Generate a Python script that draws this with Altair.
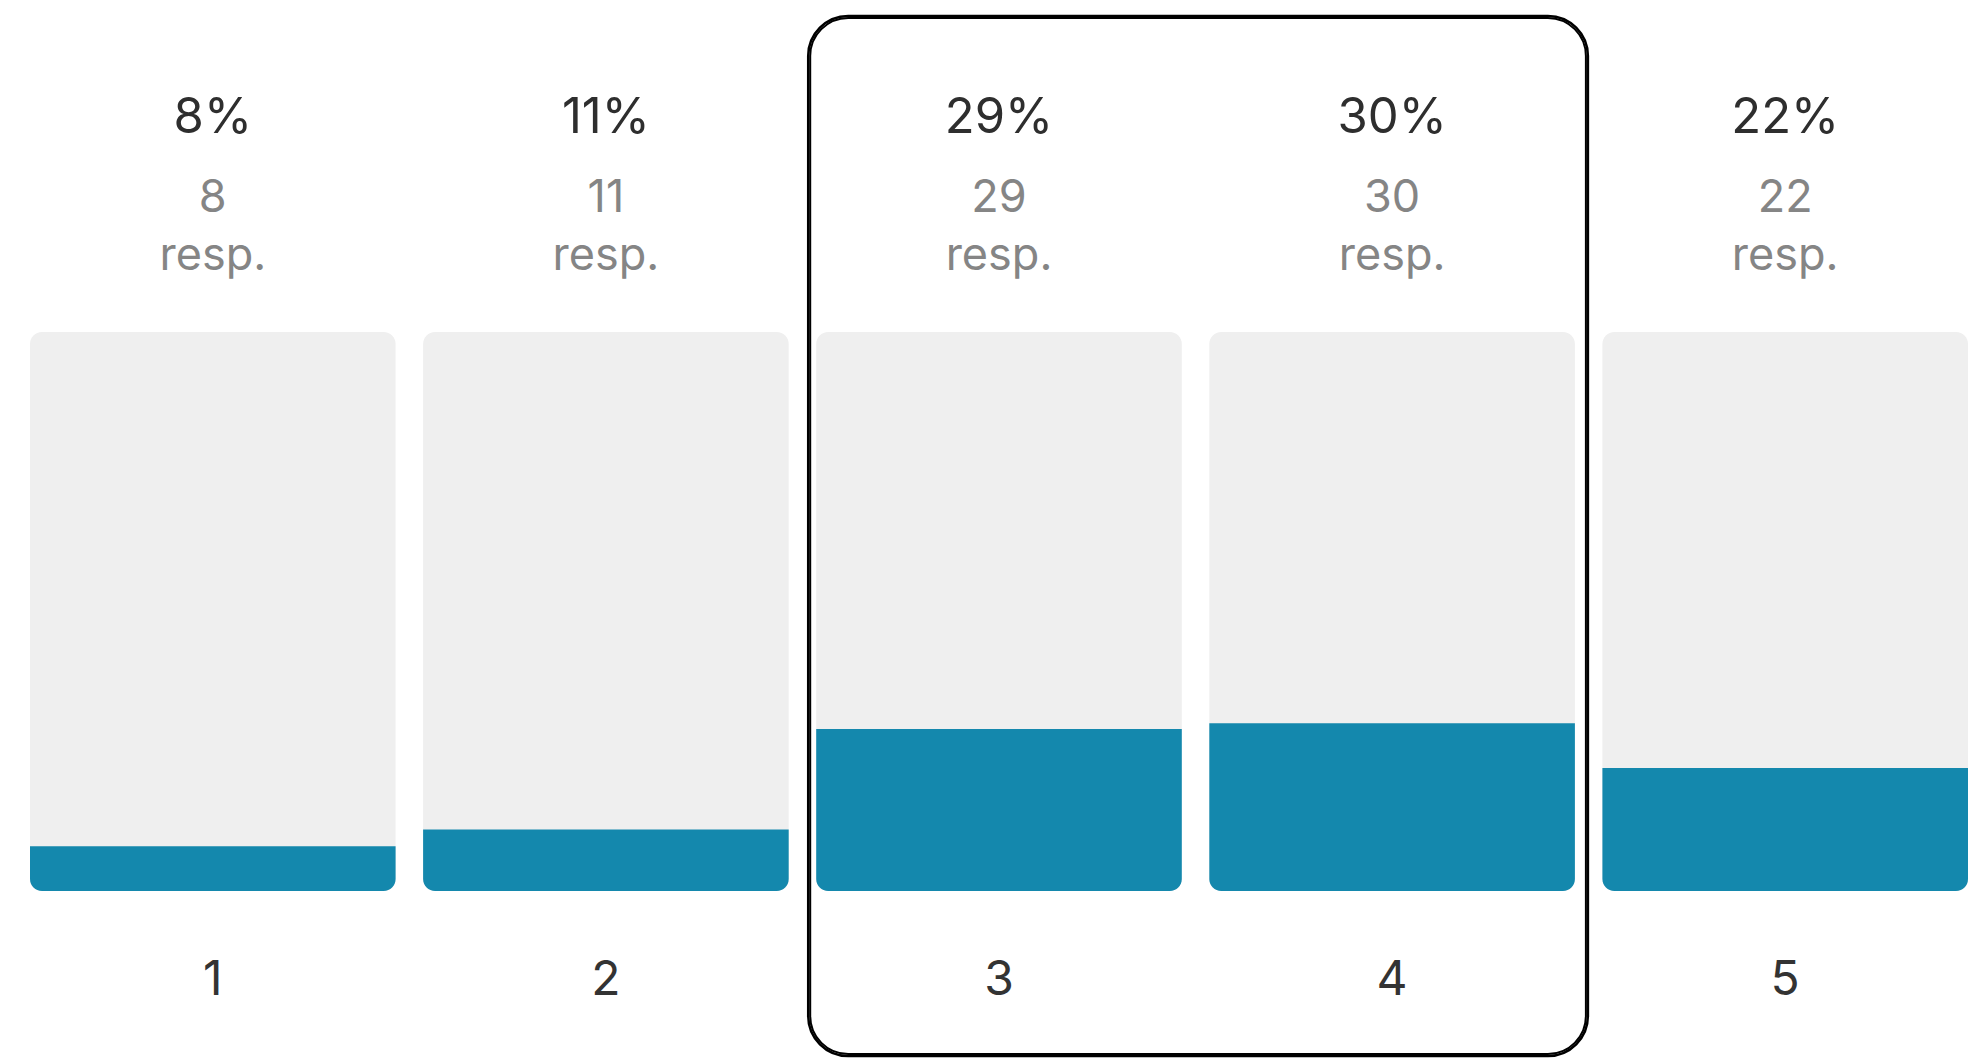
import altair as alt
import pandas as pd

categories = ["1", "2", "3", "4", "5"]
percents = [8, 11, 29, 30, 22]
counts = [8, 11, 29, 30, 22]
highlight = ["3", "4"]

df = pd.DataFrame({
    "cat": categories,
    "pct": percents,
    "cnt": counts,
})
df["pct_label"] = df["pct"].astype(str) + "%"
df["cnt_label"] = df["cnt"].astype(str)
df["resp_label"] = "resp."

box_df = pd.DataFrame({"start": [highlight[0]], "end": [highlight[-1]]})

FONT = "Inter"
BLUE = "#1488ad"
TRACK = "#efefef"

xscale = alt.Scale(domain=categories, paddingInner=0.07, paddingOuter=0)
yscale = alt.Scale(domain=[0, 100], range=[883, 324])

base = alt.Chart(df)

track = base.mark_bar(color=TRACK, cornerRadius=12).encode(
    x=alt.X("cat:N", scale=xscale, axis=None, sort=categories),
    y=alt.datum(100, scale=yscale, axis=None),
    y2=alt.datum(0),
)

fill = base.mark_bar(
    color=BLUE,
    cornerRadiusBottomLeft=12,
    cornerRadiusBottomRight=12,
).encode(
    x=alt.X("cat:N", scale=xscale, axis=None, sort=categories),
    y=alt.Y("pct:Q", scale=yscale, axis=None),
    y2=alt.datum(0),
)

pct_text = base.mark_text(
    font=FONT, fontSize=49, color="#2e2e2e", baseline="alphabetic", fontWeight=400
).encode(
    x=alt.X("cat:N", scale=xscale, axis=None, sort=categories),
    y=alt.value(125),
    text="pct_label:N",
)

cnt_text = base.mark_text(
    font=FONT, fontSize=45, color="#858585", baseline="alphabetic"
).encode(
    x=alt.X("cat:N", scale=xscale, axis=None, sort=categories),
    y=alt.value(204),
    text="cnt_label:N",
)

resp_text = base.mark_text(
    font=FONT, fontSize=45, color="#858585", baseline="alphabetic"
).encode(
    x=alt.X("cat:N", scale=xscale, axis=None, sort=categories),
    y=alt.value(262),
    text="resp_label:N",
)

cat_text = base.mark_text(
    font=FONT, fontSize=48, color="#333333", baseline="alphabetic"
).encode(
    x=alt.X("cat:N", scale=xscale, axis=None, sort=categories),
    y=alt.value(987),
    text="cat:N",
)

box1 = alt.Chart(box_df).mark_rect(
    fill=None, fillOpacity=0, stroke="#000000", strokeWidth=2.5, cornerRadius=40,
    xOffset=-8, x2Offset=13,
).encode(
    x=alt.X("start:N", scale=xscale, axis=None, bandPosition=0),
    x2=alt.X2("end:N", bandPosition=1),
    y=alt.value(8),
    y2=alt.value(1048),
)

box2 = alt.Chart(box_df).mark_rect(
    fill=None, fillOpacity=0, stroke="#000000", strokeWidth=2, cornerRadius=38,
    xOffset=-6, x2Offset=11,
).encode(
    x=alt.X("start:N", scale=xscale, axis=None, bandPosition=0),
    x2=alt.X2("end:N", bandPosition=1),
    y=alt.value(10),
    y2=alt.value(1046),
)

chart = alt.layer(track, fill, pct_text, cnt_text, resp_text, cat_text, box1, box2).properties(
    width=1938,
    height=1050,
    autosize=alt.AutoSizeParams(type="none"),
    padding={"left": 22, "top": 0, "right": 0, "bottom": 0},
    background="white",
).configure_view(stroke=None)

chart.save("out.html", embed_options={"renderer": "svg", "actions": False})
